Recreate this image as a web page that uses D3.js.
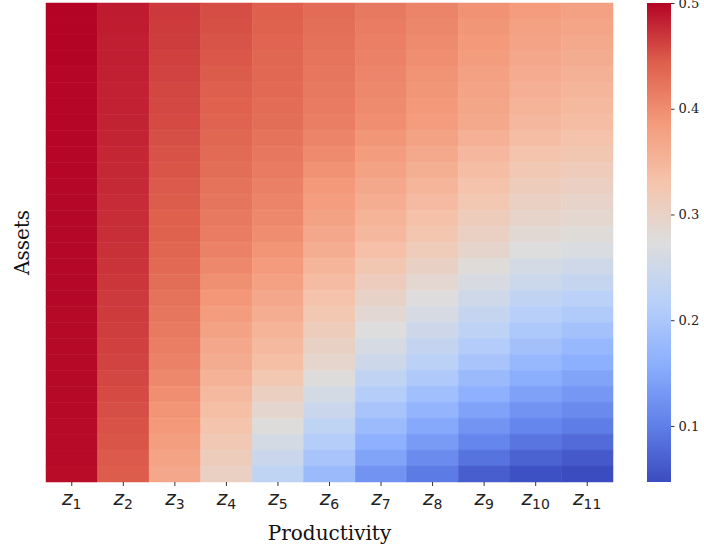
<!DOCTYPE html>
<html>
<head>
<script src="https://d3js.org/d3.v7.min.js"></script>
<style>
  body { margin: 0; background: #fff; }
  .cbar text { font-family: "DejaVu Serif", serif; font-size: 13px; fill: #222; }
  .cbar line, .xaxis line { stroke: #333; }
  .xlab { font-family: "DejaVu Sans", sans-serif; fill: #222; }
  .title { font-family: "DejaVu Serif", serif; font-size: 20px; fill: #111; }
</style>
</head>
<body>
<script>
// productivity states (columns), rows are asset grid points from top to bottom
var columns = ["1", "2", "3", "4", "5", "6", "7", "8", "9", "10", "11"];

var z1 = [.500,.500,.500,.500,.499,.499,.499,.499,.499,.499,.499,.498,.498,.498,.498,.498,.498,.498,.498,.497,.497,.497,.497,.497,.497,.497,.496,.496,.496,.495];
var z2 = [.486,.485,.484,.484,.483,.482,.482,.481,.480,.479,.478,.477,.476,.475,.474,.472,.471,.469,.467,.466,.464,.463,.461,.459,.456,.454,.452,.450,.447,.445];
var z3 = [.468,.466,.465,.463,.461,.459,.458,.456,.454,.452,.450,.447,.445,.443,.441,.438,.434,.430,.426,.422,.418,.414,.410,.404,.398,.392,.387,.381,.375,.369];
var z4 = [.455,.453,.451,.449,.446,.444,.442,.440,.437,.433,.430,.426,.423,.419,.416,.411,.404,.397,.390,.383,.376,.369,.362,.354,.345,.337,.329,.321,.312,.304];
var z5 = [.443,.441,.439,.437,.436,.434,.432,.430,.426,.421,.417,.412,.408,.404,.399,.393,.385,.377,.369,.361,.353,.345,.337,.322,.306,.291,.276,.260,.245,.228];
var z6 = [.432,.429,.427,.424,.422,.419,.417,.414,.408,.401,.395,.388,.382,.376,.369,.361,.351,.341,.331,.322,.312,.302,.292,.276,.260,.244,.228,.212,.196,.178];
var z7 = [.419,.416,.413,.410,.407,.404,.401,.398,.391,.383,.376,.368,.361,.353,.346,.336,.323,.311,.298,.286,.273,.261,.248,.231,.213,.196,.179,.161,.144,.125];
var z8 = [.408,.405,.401,.398,.394,.391,.387,.384,.376,.367,.359,.351,.343,.334,.326,.315,.302,.289,.275,.262,.249,.235,.222,.204,.187,.169,.152,.134,.116,.096];
var z9 = [.395,.391,.387,.383,.378,.374,.370,.366,.357,.348,.340,.331,.322,.313,.304,.293,.279,.265,.251,.238,.224,.210,.196,.178,.161,.143,.126,.108,.088,.066];
var z10 = [.384,.379,.374,.369,.364,.358,.353,.348,.339,.330,.321,.312,.303,.294,.285,.274,.260,.246,.231,.217,.203,.189,.175,.158,.142,.125,.108,.090,.070,.052];
var z11 = [.378,.373,.367,.362,.356,.351,.345,.340,.331,.323,.314,.305,.297,.288,.279,.267,.252,.237,.221,.206,.191,.175,.160,.145,.130,.114,.098,.080,.061,.047];

var series = [z1, z2, z3, z4, z5, z6, z7, z8, z9, z10, z11];
var cbarTicks = [0.1, 0.2, 0.3, 0.4, 0.5];
var coolwarm = ["#3b4cc0", "#6282ea", "#8db0fe", "#b8d0f9", "#dddddd",
                "#f5c4ac", "#f49a7b", "#de604d", "#b40426"];

var W = 704, H = 551;
var plotL = 46, plotR = 613, plotT = 3, plotB = 482;

var svg = d3.select("body").append("svg")
    .attr("width", W).attr("height", H);

var cells = [];
series.forEach(function(col, j) {
  col.forEach(function(v, i) {
    cells.push({col: columns[j], row: i, v: v});
  });
});

var vmin = d3.min(cells, function(d) { return d.v; });
var vmax = d3.max(cells, function(d) { return d.v; });

var norm = d3.scaleLinear().domain([vmin, vmax]).range([0, 1]);
var cmap = d3.scaleLinear()
    .domain(d3.range(coolwarm.length).map(function(i) { return i / (coolwarm.length - 1); }))
    .range(coolwarm)
    .interpolate(d3.interpolateRgb)
    .clamp(true);
function color(v) { return cmap(norm(v)); }

var x = d3.scaleBand().domain(columns).range([plotL, plotR]);
var y = d3.scaleBand().domain(d3.range(z1.length)).range([plotT, plotB]);

svg.append("g").selectAll("rect")
  .data(cells)
  .enter().append("rect")
  .attr("x", function(d) { return x(d.col); })
  .attr("y", function(d) { return y(d.row); })
  .attr("width", x.bandwidth())
  .attr("height", y.bandwidth())
  .attr("fill", function(d) { return color(d.v); })
  .attr("stroke", function(d) { return color(d.v); })
  .attr("stroke-width", 0.5);

// x axis
var xg = svg.append("g").attr("class", "xaxis")
  .attr("transform", "translate(0," + plotB + ")")
  .call(d3.axisBottom(x).tickSize(4).tickFormat(""));
xg.select(".domain").remove();

var lab = svg.append("g").selectAll("text")
  .data(columns)
  .enter().append("text")
  .attr("class", "xlab")
  .attr("x", function(d) { return x(d) + x.bandwidth() / 2; })
  .attr("y", 505)
  .attr("text-anchor", "middle");
lab.append("tspan").attr("font-style", "italic").attr("font-size", "20px").text("z");
lab.append("tspan").attr("font-size", "14px").attr("dy", 4).text(function(d) { return d; });

svg.append("text").attr("class", "title")
  .attr("x", (plotL + plotR) / 2).attr("y", 540)
  .attr("text-anchor", "middle")
  .text("Productivity");

svg.append("text").attr("class", "title")
  .attr("transform", "translate(29," + (plotT + plotB) / 2 + ") rotate(-90)")
  .attr("text-anchor", "middle")
  .text("Assets");

// colorbar
var cx = 647, cw = 24;
var cy = d3.scaleLinear().domain([vmin, vmax]).range([plotB, plotT]);

var grad = svg.append("defs").append("linearGradient")
  .attr("id", "cbgrad").attr("x1", 0).attr("y1", 1).attr("x2", 0).attr("y2", 0);
grad.selectAll("stop")
  .data(coolwarm)
  .enter().append("stop")
  .attr("offset", function(d, i) { return i / (coolwarm.length - 1); })
  .attr("stop-color", function(d) { return d; });

svg.append("rect")
  .attr("x", cx).attr("y", plotT)
  .attr("width", cw).attr("height", plotB - plotT)
  .attr("fill", "url(#cbgrad)");

var cg = svg.append("g").attr("class", "cbar")
  .attr("transform", "translate(" + (cx + cw) + ",0)")
  .call(d3.axisRight(cy).tickValues(cbarTicks).tickSize(3.5).tickPadding(4)
        .tickFormat(d3.format(".1f")));
cg.select(".domain").remove();
</script>
</body>
</html>
